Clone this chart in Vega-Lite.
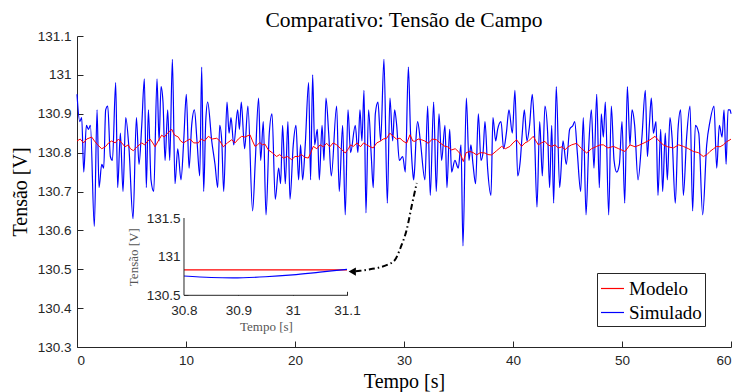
{
 "$schema": "https://vega.github.io/schema/vega-lite/v6.json",
 "width": 654, "height": 311,
 "autosize": {"type": "none"},
 "padding": {"left": 77, "top": 36, "right": 8, "bottom": 45},
 "background": "white",
 "config": {"view": {"stroke": null}, "axis": {"grid": false}},
 "title": {"text": "Comparativo: Tensão de Campo", "font": "Liberation Serif", "fontSize": 21.5, "fontWeight": "normal", "color": "#000000", "anchor": "middle", "baseline": "bottom", "offset": 2, "dy": 26},
 "datasets": {
  "sim": [
   {"t":0,"v":130.95,"s":"Simulado"},{"t":0.25,"v":130.88,"s":"Simulado"},{"t":0.43,"v":130.89,"s":"Simulado"},{"t":0.62,"v":130.75,"s":"Simulado"},{"t":0.86,"v":130.87,"s":"Simulado"},{"t":1.05,"v":130.86,"s":"Simulado"},{"t":1.23,"v":130.87,"s":"Simulado"},{"t":1.59,"v":130.61,"s":"Simulado"},{"t":1.84,"v":130.91,"s":"Simulado"},{"t":2.02,"v":130.71,"s":"Simulado"},{"t":2.27,"v":130.77,"s":"Simulado"},{"t":2.45,"v":130.76,"s":"Simulado"},{"t":2.63,"v":130.91,"s":"Simulado"},{"t":2.82,"v":130.92,"s":"Simulado"},{"t":3.06,"v":130.79,"s":"Simulado"},{"t":3.25,"v":130.78,"s":"Simulado"},{"t":3.55,"v":130.98,"s":"Simulado"},{"t":3.73,"v":130.71,"s":"Simulado"},{"t":3.98,"v":130.85,"s":"Simulado"},{"t":4.22,"v":130.70,"s":"Simulado"},{"t":4.47,"v":130.89,"s":"Simulado"},{"t":4.77,"v":130.81,"s":"Simulado"},{"t":5.14,"v":130.63,"s":"Simulado"},{"t":5.45,"v":130.89,"s":"Simulado"},{"t":5.69,"v":130.77,"s":"Simulado"},{"t":5.94,"v":130.87,"s":"Simulado"},{"t":6.18,"v":130.99,"s":"Simulado"},{"t":6.36,"v":130.71,"s":"Simulado"},{"t":6.55,"v":130.91,"s":"Simulado"},{"t":6.79,"v":130.73,"s":"Simulado"},{"t":7.04,"v":130.70,"s":"Simulado"},{"t":7.34,"v":130.99,"s":"Simulado"},{"t":7.53,"v":130.83,"s":"Simulado"},{"t":7.71,"v":130.97,"s":"Simulado"},{"t":7.89,"v":130.93,"s":"Simulado"},{"t":8.08,"v":130.78,"s":"Simulado"},{"t":8.32,"v":130.91,"s":"Simulado"},{"t":8.51,"v":130.78,"s":"Simulado"},{"t":8.75,"v":131.04,"s":"Simulado"},{"t":8.99,"v":130.72,"s":"Simulado"},{"t":9.24,"v":130.81,"s":"Simulado"},{"t":9.54,"v":130.73,"s":"Simulado"},{"t":9.79,"v":130.83,"s":"Simulado"},{"t":10.03,"v":130.95,"s":"Simulado"},{"t":10.28,"v":130.76,"s":"Simulado"},{"t":10.52,"v":130.87,"s":"Simulado"},{"t":10.77,"v":130.91,"s":"Simulado"},{"t":11.01,"v":130.83,"s":"Simulado"},{"t":11.26,"v":130.74,"s":"Simulado"},{"t":11.44,"v":131.02,"s":"Simulado"},{"t":11.62,"v":130.70,"s":"Simulado"},{"t":11.81,"v":130.88,"s":"Simulado"},{"t":11.99,"v":130.93,"s":"Simulado"},{"t":12.36,"v":130.83,"s":"Simulado"},{"t":12.66,"v":130.77,"s":"Simulado"},{"t":12.91,"v":130.71,"s":"Simulado"},{"t":13.09,"v":130.87,"s":"Simulado"},{"t":13.28,"v":130.83,"s":"Simulado"},{"t":13.46,"v":130.70,"s":"Simulado"},{"t":13.76,"v":130.93,"s":"Simulado"},{"t":13.95,"v":130.85,"s":"Simulado"},{"t":14.13,"v":130.89,"s":"Simulado"},{"t":14.38,"v":130.82,"s":"Simulado"},{"t":14.74,"v":130.91,"s":"Simulado"},{"t":14.9,"v":130.86,"s":"Simulado"},{"t":15.07,"v":130.93,"s":"Simulado"},{"t":15.38,"v":130.81,"s":"Simulado"},{"t":15.68,"v":130.92,"s":"Simulado"},{"t":16.11,"v":130.65,"s":"Simulado"},{"t":16.36,"v":130.78,"s":"Simulado"},{"t":16.66,"v":130.94,"s":"Simulado"},{"t":16.85,"v":130.78,"s":"Simulado"},{"t":17.09,"v":130.88,"s":"Simulado"},{"t":17.34,"v":130.64,"s":"Simulado"},{"t":17.64,"v":130.85,"s":"Simulado"},{"t":17.89,"v":130.90,"s":"Simulado"},{"t":18.19,"v":130.68,"s":"Simulado"},{"t":18.5,"v":130.76,"s":"Simulado"},{"t":18.68,"v":130.72,"s":"Simulado"},{"t":18.86,"v":130.87,"s":"Simulado"},{"t":19.11,"v":130.72,"s":"Simulado"},{"t":19.35,"v":130.88,"s":"Simulado"},{"t":19.54,"v":130.68,"s":"Simulado"},{"t":19.84,"v":130.82,"s":"Simulado"},{"t":20.09,"v":130.87,"s":"Simulado"},{"t":20.33,"v":130.73,"s":"Simulado"},{"t":20.51,"v":130.82,"s":"Simulado"},{"t":20.7,"v":130.73,"s":"Simulado"},{"t":20.94,"v":130.82,"s":"Simulado"},{"t":21.25,"v":130.98,"s":"Simulado"},{"t":21.43,"v":130.73,"s":"Simulado"},{"t":21.62,"v":131.0,"s":"Simulado"},{"t":21.8,"v":130.82,"s":"Simulado"},{"t":22.05,"v":130.86,"s":"Simulado"},{"t":22.23,"v":130.73,"s":"Simulado"},{"t":22.48,"v":130.87,"s":"Simulado"},{"t":22.66,"v":130.78,"s":"Simulado"},{"t":22.84,"v":130.94,"s":"Simulado"},{"t":23.09,"v":130.85,"s":"Simulado"},{"t":23.33,"v":130.74,"s":"Simulado"},{"t":23.82,"v":130.92,"s":"Simulado"},{"t":24.06,"v":130.70,"s":"Simulado"},{"t":24.37,"v":130.87,"s":"Simulado"},{"t":24.61,"v":130.64,"s":"Simulado"},{"t":24.86,"v":130.91,"s":"Simulado"},{"t":25.1,"v":130.80,"s":"Simulado"},{"t":25.53,"v":130.87,"s":"Simulado"},{"t":25.77,"v":130.80,"s":"Simulado"},{"t":25.96,"v":130.91,"s":"Simulado"},{"t":26.14,"v":130.83,"s":"Simulado"},{"t":26.33,"v":130.96,"s":"Simulado"},{"t":26.51,"v":130.645,"s":"Simulado"},{"t":26.75,"v":130.91,"s":"Simulado"},{"t":27.0,"v":130.79,"s":"Simulado"},{"t":27.18,"v":130.71,"s":"Simulado"},{"t":27.37,"v":130.90,"s":"Simulado"},{"t":27.61,"v":130.93,"s":"Simulado"},{"t":27.86,"v":130.83,"s":"Simulado"},{"t":28.16,"v":131.04,"s":"Simulado"},{"t":28.47,"v":130.67,"s":"Simulado"},{"t":28.71,"v":130.94,"s":"Simulado"},{"t":28.96,"v":130.83,"s":"Simulado"},{"t":29.14,"v":130.91,"s":"Simulado"},{"t":29.33,"v":130.87,"s":"Simulado"},{"t":29.57,"v":130.78,"s":"Simulado"},{"t":29.88,"v":130.79,"s":"Simulado"},{"t":30.12,"v":130.75,"s":"Simulado"},{"t":30.4,"v":131.02,"s":"Simulado"},{"t":30.6,"v":130.85,"s":"Simulado"},{"t":30.8,"v":130.75,"s":"Simulado"},{"t":30.89,"v":130.73,"s":"Simulado"},{"t":31.0,"v":130.77,"s":"Simulado"},{"t":31.1,"v":130.835,"s":"Simulado"},{"t":31.25,"v":130.88,"s":"Simulado"},{"t":31.5,"v":130.83,"s":"Simulado"},{"t":31.92,"v":130.73,"s":"Simulado"},{"t":32.17,"v":130.92,"s":"Simulado"},{"t":32.41,"v":130.69,"s":"Simulado"},{"t":32.72,"v":130.93,"s":"Simulado"},{"t":32.96,"v":130.70,"s":"Simulado"},{"t":33.21,"v":130.90,"s":"Simulado"},{"t":33.45,"v":130.78,"s":"Simulado"},{"t":33.76,"v":130.87,"s":"Simulado"},{"t":33.94,"v":130.71,"s":"Simulado"},{"t":34.19,"v":130.86,"s":"Simulado"},{"t":34.37,"v":130.75,"s":"Simulado"},{"t":34.67,"v":130.78,"s":"Simulado"},{"t":34.98,"v":130.76,"s":"Simulado"},{"t":35.23,"v":130.82,"s":"Simulado"},{"t":35.41,"v":130.56,"s":"Simulado"},{"t":35.72,"v":130.94,"s":"Simulado"},{"t":35.96,"v":130.78,"s":"Simulado"},{"t":36.14,"v":130.82,"s":"Simulado"},{"t":36.33,"v":130.77,"s":"Simulado"},{"t":36.57,"v":130.72,"s":"Simulado"},{"t":36.82,"v":130.90,"s":"Simulado"},{"t":37.06,"v":130.78,"s":"Simulado"},{"t":37.25,"v":130.80,"s":"Simulado"},{"t":37.43,"v":130.88,"s":"Simulado"},{"t":37.67,"v":130.76,"s":"Simulado"},{"t":37.98,"v":130.69,"s":"Simulado"},{"t":38.16,"v":130.89,"s":"Simulado"},{"t":38.41,"v":130.83,"s":"Simulado"},{"t":38.59,"v":130.86,"s":"Simulado"},{"t":38.9,"v":130.88,"s":"Simulado"},{"t":39.14,"v":130.81,"s":"Simulado"},{"t":39.39,"v":130.85,"s":"Simulado"},{"t":39.63,"v":130.91,"s":"Simulado"},{"t":39.94,"v":130.85,"s":"Simulado"},{"t":40.18,"v":130.96,"s":"Simulado"},{"t":40.43,"v":130.74,"s":"Simulado"},{"t":40.67,"v":130.78,"s":"Simulado"},{"t":40.85,"v":130.85,"s":"Simulado"},{"t":41.04,"v":130.91,"s":"Simulado"},{"t":41.28,"v":130.83,"s":"Simulado"},{"t":41.52,"v":130.87,"s":"Simulado"},{"t":41.77,"v":130.95,"s":"Simulado"},{"t":41.95,"v":130.87,"s":"Simulado"},{"t":42.2,"v":130.66,"s":"Simulado"},{"t":42.45,"v":130.88,"s":"Simulado"},{"t":42.69,"v":130.74,"s":"Simulado"},{"t":42.93,"v":130.92,"s":"Simulado"},{"t":43.18,"v":130.85,"s":"Simulado"},{"t":43.36,"v":130.71,"s":"Simulado"},{"t":43.55,"v":130.87,"s":"Simulado"},{"t":43.73,"v":130.67,"s":"Simulado"},{"t":43.97,"v":130.97,"s":"Simulado"},{"t":44.28,"v":130.71,"s":"Simulado"},{"t":44.59,"v":130.83,"s":"Simulado"},{"t":44.89,"v":130.77,"s":"Simulado"},{"t":45.2,"v":130.86,"s":"Simulado"},{"t":45.5,"v":130.87,"s":"Simulado"},{"t":45.66,"v":130.88,"s":"Simulado"},{"t":45.9,"v":130.80,"s":"Simulado"},{"t":46.21,"v":130.70,"s":"Simulado"},{"t":46.45,"v":130.89,"s":"Simulado"},{"t":46.7,"v":130.64,"s":"Simulado"},{"t":46.94,"v":130.81,"s":"Simulado"},{"t":47.19,"v":130.91,"s":"Simulado"},{"t":47.43,"v":130.76,"s":"Simulado"},{"t":47.68,"v":130.95,"s":"Simulado"},{"t":47.92,"v":130.71,"s":"Simulado"},{"t":48.1,"v":130.90,"s":"Simulado"},{"t":48.29,"v":130.84,"s":"Simulado"},{"t":48.47,"v":130.93,"s":"Simulado"},{"t":48.78,"v":130.64,"s":"Simulado"},{"t":49.02,"v":130.92,"s":"Simulado"},{"t":49.27,"v":130.78,"s":"Simulado"},{"t":49.51,"v":130.75,"s":"Simulado"},{"t":49.76,"v":130.77,"s":"Simulado"},{"t":50.0,"v":130.88,"s":"Simulado"},{"t":50.25,"v":130.67,"s":"Simulado"},{"t":50.49,"v":130.97,"s":"Simulado"},{"t":50.73,"v":130.82,"s":"Simulado"},{"t":50.92,"v":130.91,"s":"Simulado"},{"t":51.16,"v":130.87,"s":"Simulado"},{"t":51.47,"v":130.73,"s":"Simulado"},{"t":51.83,"v":130.84,"s":"Simulado"},{"t":52.14,"v":130.96,"s":"Simulado"},{"t":52.33,"v":130.79,"s":"Simulado"},{"t":52.51,"v":130.87,"s":"Simulado"},{"t":52.69,"v":130.94,"s":"Simulado"},{"t":52.88,"v":130.85,"s":"Simulado"},{"t":53.12,"v":130.88,"s":"Simulado"},{"t":53.3,"v":130.69,"s":"Simulado"},{"t":53.55,"v":130.86,"s":"Simulado"},{"t":53.73,"v":130.70,"s":"Simulado"},{"t":53.97,"v":130.85,"s":"Simulado"},{"t":54.16,"v":130.73,"s":"Simulado"},{"t":54.4,"v":130.89,"s":"Simulado"},{"t":54.59,"v":130.84,"s":"Simulado"},{"t":54.89,"v":130.67,"s":"Simulado"},{"t":55.14,"v":130.86,"s":"Simulado"},{"t":55.38,"v":130.91,"s":"Simulado"},{"t":55.63,"v":130.69,"s":"Simulado"},{"t":55.93,"v":130.84,"s":"Simulado"},{"t":56.24,"v":130.92,"s":"Simulado"},{"t":56.48,"v":130.65,"s":"Simulado"},{"t":56.73,"v":130.87,"s":"Simulado"},{"t":57.04,"v":130.85,"s":"Simulado"},{"t":57.4,"v":130.64,"s":"Simulado"},{"t":57.77,"v":130.82,"s":"Simulado"},{"t":58.07,"v":130.88,"s":"Simulado"},{"t":58.44,"v":130.92,"s":"Simulado"},{"t":58.69,"v":130.76,"s":"Simulado"},{"t":58.93,"v":130.87,"s":"Simulado"},{"t":59.18,"v":130.84,"s":"Simulado"},{"t":59.36,"v":130.91,"s":"Simulado"},{"t":59.55,"v":130.77,"s":"Simulado"},{"t":59.73,"v":130.91,"s":"Simulado"},{"t":59.91,"v":130.91,"s":"Simulado"},{"t":60,"v":130.90,"s":"Simulado"}
  ],
  "mod": [
   {"t":0,"v":130.83,"s":"Modelo"},{"t":0.3,"v":130.835,"s":"Modelo"},{"t":0.6,"v":130.825,"s":"Modelo"},{"t":0.9,"v":130.835,"s":"Modelo"},{"t":1.35,"v":130.84,"s":"Modelo"},{"t":1.6,"v":130.83,"s":"Modelo"},{"t":1.9,"v":130.82,"s":"Modelo"},{"t":2.27,"v":130.81,"s":"Modelo"},{"t":2.6,"v":130.815,"s":"Modelo"},{"t":2.9,"v":130.825,"s":"Modelo"},{"t":3.18,"v":130.83,"s":"Modelo"},{"t":3.5,"v":130.825,"s":"Modelo"},{"t":3.8,"v":130.835,"s":"Modelo"},{"t":4.1,"v":130.825,"s":"Modelo"},{"t":4.41,"v":130.815,"s":"Modelo"},{"t":4.7,"v":130.82,"s":"Modelo"},{"t":4.9,"v":130.81,"s":"Modelo"},{"t":5.17,"v":130.805,"s":"Modelo"},{"t":5.5,"v":130.815,"s":"Modelo"},{"t":5.94,"v":130.825,"s":"Modelo"},{"t":6.2,"v":130.82,"s":"Modelo"},{"t":6.5,"v":130.83,"s":"Modelo"},{"t":6.7,"v":130.835,"s":"Modelo"},{"t":6.95,"v":130.825,"s":"Modelo"},{"t":7.16,"v":130.815,"s":"Modelo"},{"t":7.45,"v":130.83,"s":"Modelo"},{"t":7.77,"v":130.845,"s":"Modelo"},{"t":8.0,"v":130.84,"s":"Modelo"},{"t":8.3,"v":130.85,"s":"Modelo"},{"t":8.69,"v":130.86,"s":"Modelo"},{"t":8.95,"v":130.845,"s":"Modelo"},{"t":9.3,"v":130.84,"s":"Modelo"},{"t":9.5,"v":130.83,"s":"Modelo"},{"t":9.76,"v":130.825,"s":"Modelo"},{"t":10.05,"v":130.83,"s":"Modelo"},{"t":10.37,"v":130.835,"s":"Modelo"},{"t":10.7,"v":130.825,"s":"Modelo"},{"t":11.13,"v":130.825,"s":"Modelo"},{"t":11.4,"v":130.835,"s":"Modelo"},{"t":11.7,"v":130.83,"s":"Modelo"},{"t":12.05,"v":130.842,"s":"Modelo"},{"t":12.4,"v":130.835,"s":"Modelo"},{"t":12.82,"v":130.837,"s":"Modelo"},{"t":13.1,"v":130.83,"s":"Modelo"},{"t":13.43,"v":130.815,"s":"Modelo"},{"t":13.8,"v":130.825,"s":"Modelo"},{"t":14.19,"v":130.833,"s":"Modelo"},{"t":14.5,"v":130.825,"s":"Modelo"},{"t":14.8,"v":130.835,"s":"Modelo"},{"t":15.11,"v":130.842,"s":"Modelo"},{"t":15.4,"v":130.84,"s":"Modelo"},{"t":15.87,"v":130.846,"s":"Modelo"},{"t":16.1,"v":130.83,"s":"Modelo"},{"t":16.33,"v":130.816,"s":"Modelo"},{"t":16.55,"v":130.82,"s":"Modelo"},{"t":16.78,"v":130.826,"s":"Modelo"},{"t":17.0,"v":130.82,"s":"Modelo"},{"t":17.24,"v":130.822,"s":"Modelo"},{"t":17.55,"v":130.807,"s":"Modelo"},{"t":17.9,"v":130.80,"s":"Modelo"},{"t":18.31,"v":130.79,"s":"Modelo"},{"t":18.6,"v":130.795,"s":"Modelo"},{"t":18.93,"v":130.786,"s":"Modelo"},{"t":19.3,"v":130.79,"s":"Modelo"},{"t":19.69,"v":130.782,"s":"Modelo"},{"t":20.0,"v":130.79,"s":"Modelo"},{"t":20.3,"v":130.79,"s":"Modelo"},{"t":20.6,"v":130.795,"s":"Modelo"},{"t":20.9,"v":130.788,"s":"Modelo"},{"t":21.22,"v":130.786,"s":"Modelo"},{"t":21.45,"v":130.80,"s":"Modelo"},{"t":21.68,"v":130.816,"s":"Modelo"},{"t":22.0,"v":130.81,"s":"Modelo"},{"t":22.3,"v":130.82,"s":"Modelo"},{"t":22.6,"v":130.815,"s":"Modelo"},{"t":22.9,"v":130.824,"s":"Modelo"},{"t":23.2,"v":130.815,"s":"Modelo"},{"t":23.5,"v":130.825,"s":"Modelo"},{"t":23.82,"v":130.82,"s":"Modelo"},{"t":24.2,"v":130.81,"s":"Modelo"},{"t":24.61,"v":130.799,"s":"Modelo"},{"t":24.9,"v":130.81,"s":"Modelo"},{"t":25.1,"v":130.82,"s":"Modelo"},{"t":25.35,"v":130.816,"s":"Modelo"},{"t":25.7,"v":130.825,"s":"Modelo"},{"t":26.0,"v":130.815,"s":"Modelo"},{"t":26.3,"v":130.825,"s":"Modelo"},{"t":26.57,"v":130.82,"s":"Modelo"},{"t":26.9,"v":130.815,"s":"Modelo"},{"t":27.18,"v":130.812,"s":"Modelo"},{"t":27.5,"v":130.825,"s":"Modelo"},{"t":27.79,"v":130.829,"s":"Modelo"},{"t":28.1,"v":130.835,"s":"Modelo"},{"t":28.41,"v":130.837,"s":"Modelo"},{"t":28.7,"v":130.85,"s":"Modelo"},{"t":29.02,"v":130.842,"s":"Modelo"},{"t":29.3,"v":130.835,"s":"Modelo"},{"t":29.63,"v":130.837,"s":"Modelo"},{"t":29.9,"v":130.83,"s":"Modelo"},{"t":30.24,"v":130.824,"s":"Modelo"},{"t":30.55,"v":130.846,"s":"Modelo"},{"t":30.8,"v":130.83,"s":"Modelo"},{"t":31.01,"v":130.829,"s":"Modelo"},{"t":31.3,"v":130.835,"s":"Modelo"},{"t":31.62,"v":130.833,"s":"Modelo"},{"t":31.9,"v":130.83,"s":"Modelo"},{"t":32.23,"v":130.824,"s":"Modelo"},{"t":32.6,"v":130.835,"s":"Modelo"},{"t":32.99,"v":130.833,"s":"Modelo"},{"t":33.3,"v":130.825,"s":"Modelo"},{"t":33.76,"v":130.816,"s":"Modelo"},{"t":34.0,"v":130.815,"s":"Modelo"},{"t":34.37,"v":130.807,"s":"Modelo"},{"t":34.7,"v":130.81,"s":"Modelo"},{"t":34.98,"v":130.803,"s":"Modelo"},{"t":35.2,"v":130.795,"s":"Modelo"},{"t":35.44,"v":130.777,"s":"Modelo"},{"t":35.7,"v":130.80,"s":"Modelo"},{"t":36.05,"v":130.803,"s":"Modelo"},{"t":36.35,"v":130.80,"s":"Modelo"},{"t":36.66,"v":130.794,"s":"Modelo"},{"t":37.0,"v":130.80,"s":"Modelo"},{"t":37.43,"v":130.799,"s":"Modelo"},{"t":37.7,"v":130.795,"s":"Modelo"},{"t":38.04,"v":130.794,"s":"Modelo"},{"t":38.5,"v":130.805,"s":"Modelo"},{"t":38.96,"v":130.816,"s":"Modelo"},{"t":39.3,"v":130.81,"s":"Modelo"},{"t":39.72,"v":130.816,"s":"Modelo"},{"t":40.0,"v":130.825,"s":"Modelo"},{"t":40.33,"v":130.833,"s":"Modelo"},{"t":40.55,"v":130.825,"s":"Modelo"},{"t":40.79,"v":130.816,"s":"Modelo"},{"t":41.1,"v":130.825,"s":"Modelo"},{"t":41.4,"v":130.829,"s":"Modelo"},{"t":41.86,"v":130.842,"s":"Modelo"},{"t":42.1,"v":130.83,"s":"Modelo"},{"t":42.32,"v":130.82,"s":"Modelo"},{"t":42.6,"v":130.825,"s":"Modelo"},{"t":42.93,"v":130.829,"s":"Modelo"},{"t":43.2,"v":130.82,"s":"Modelo"},{"t":43.55,"v":130.816,"s":"Modelo"},{"t":43.85,"v":130.82,"s":"Modelo"},{"t":44.16,"v":130.812,"s":"Modelo"},{"t":44.5,"v":130.815,"s":"Modelo"},{"t":44.77,"v":130.807,"s":"Modelo"},{"t":45.05,"v":130.815,"s":"Modelo"},{"t":45.38,"v":130.82,"s":"Modelo"},{"t":45.84,"v":130.824,"s":"Modelo"},{"t":46.3,"v":130.81,"s":"Modelo"},{"t":46.76,"v":130.799,"s":"Modelo"},{"t":47.2,"v":130.81,"s":"Modelo"},{"t":47.68,"v":130.816,"s":"Modelo"},{"t":48.0,"v":130.82,"s":"Modelo"},{"t":48.29,"v":130.82,"s":"Modelo"},{"t":48.7,"v":130.812,"s":"Modelo"},{"t":49.21,"v":130.816,"s":"Modelo"},{"t":49.7,"v":130.81,"s":"Modelo"},{"t":50.28,"v":130.803,"s":"Modelo"},{"t":50.73,"v":130.82,"s":"Modelo"},{"t":51.2,"v":130.815,"s":"Modelo"},{"t":51.65,"v":130.82,"s":"Modelo"},{"t":52.1,"v":130.826,"s":"Modelo"},{"t":52.57,"v":130.833,"s":"Modelo"},{"t":53.03,"v":130.842,"s":"Modelo"},{"t":53.4,"v":130.83,"s":"Modelo"},{"t":53.79,"v":130.82,"s":"Modelo"},{"t":54.2,"v":130.815,"s":"Modelo"},{"t":54.71,"v":130.812,"s":"Modelo"},{"t":55.2,"v":130.82,"s":"Modelo"},{"t":55.63,"v":130.816,"s":"Modelo"},{"t":56.1,"v":130.81,"s":"Modelo"},{"t":56.55,"v":130.803,"s":"Modelo"},{"t":57.0,"v":130.80,"s":"Modelo"},{"t":57.46,"v":130.79,"s":"Modelo"},{"t":57.8,"v":130.795,"s":"Modelo"},{"t":58.07,"v":130.803,"s":"Modelo"},{"t":58.4,"v":130.81,"s":"Modelo"},{"t":58.69,"v":130.816,"s":"Modelo"},{"t":59.0,"v":130.815,"s":"Modelo"},{"t":59.3,"v":130.82,"s":"Modelo"},{"t":59.6,"v":130.828,"s":"Modelo"},{"t":59.91,"v":130.833,"s":"Modelo"},{"t":60,"v":130.835,"s":"Modelo"}
  ],
  "arrow": [
   {"t":31.17,"v":130.722},{"t":30.73,"v":130.666},{"t":30.25,"v":130.602},{"t":29.72,"v":130.558},{"t":29.17,"v":130.524},{"t":28.53,"v":130.512},{"t":27.8,"v":130.505},{"t":26.88,"v":130.5},{"t":25.96,"v":130.496},{"t":25.55,"v":130.495}
  ],
  "head": [{"t":25.25,"v":130.494}],
  "insetSim": [
   {"t":30.8,"v":130.75},{"t":30.85,"v":130.73},{"t":30.89,"v":130.725},{"t":30.95,"v":130.74},{"t":31.0,"v":130.765},{"t":31.05,"v":130.80},{"t":31.1,"v":130.835}
  ],
  "insetMod": [
   {"t":30.8,"v":130.83},{"t":30.9,"v":130.83},{"t":31.0,"v":130.83},{"t":31.1,"v":130.83}
  ],
  "insetBox": [{"t":30.8,"t2":31.1,"v":130.5,"v2":131.5}],
  "insetAxes": [
   {"t":30.8,"t2":31.1,"v":130.5,"v2":130.5},
   {"t":30.8,"t2":30.8,"v":130.5,"v2":131.5}
  ]
 },
 "layer": [
  {
   "encoding": {
    "x": {"field": "t", "type": "quantitative",
     "scale": {"domain": [0, 60], "nice": false, "zero": false},
     "axis": {"orient": "bottom", "values": [0, 10, 20, 30, 40, 50, 60], "format": "d", "tickSize": -6, "labelPadding": 12,
      "domainColor": "#262626", "tickColor": "#262626", "labelColor": "#262626", "labelFont": "Liberation Sans", "labelFontSize": 13.5,
      "title": "Tempo [s]", "titleFont": "Liberation Serif", "titleFontSize": 20, "titleFontWeight": "normal", "titleColor": "#000000",
      "titleX": 327, "titleY": 40, "titleBaseline": "alphabetic", "titleAlign": "center"}},
    "y": {"field": "v", "type": "quantitative",
     "scale": {"domain": [130.3, 131.1], "nice": false, "zero": false},
     "axis": {"orient": "left", "values": [130.3, 130.4, 130.5, 130.6, 130.7, 130.8, 130.9, 131, 131.1], "format": ".4~r", "tickSize": -6, "labelPadding": 12,
      "domainColor": "#262626", "tickColor": "#262626", "labelColor": "#262626", "labelFont": "Liberation Sans", "labelFontSize": 13.5,
      "title": "Tensão [V]", "titleFont": "Liberation Serif", "titleFontSize": 20, "titleFontWeight": "normal", "titleColor": "#000000",
      "titleX": -57, "titleY": 155.5, "titleAngle": -90, "titleBaseline": "middle", "titleAlign": "center"}}
   },
   "layer": [
    {"data": {"name": "sim"}, "mark": {"type": "line", "strokeWidth": 1.2, "interpolate": "monotone"},
     "encoding": {"color": {"field": "s", "type": "nominal",
      "scale": {"domain": ["Modelo", "Simulado"], "range": ["#ff0000", "#0000ff"]},
      "legend": {"orient": "none", "legendX": 520, "legendY": 237, "title": null, "symbolType": "stroke", "symbolSize": 529, "symbolStrokeWidth": 1.2,
       "strokeColor": "#262626", "fillColor": "white", "padding": 3, "labelFont": "Liberation Serif", "labelFontSize": 19, "labelColor": "#000000", "rowPadding": 1, "labelOffset": 4}}}},
    {"data": {"name": "mod"}, "mark": {"type": "line", "strokeWidth": 1},
     "encoding": {"color": {"field": "s", "type": "nominal"}}},
    {"data": {"name": "arrow"}, "mark": {"type": "line", "color": "#000000", "strokeWidth": 2, "strokeDash": [6, 3, 1.5, 3], "interpolate": "monotone"}, "encoding": {}},
    {"data": {"name": "head"}, "mark": {"type": "point", "shape": "triangle-left", "filled": true, "color": "#000000", "size": 70, "opacity": 1}, "encoding": {}}
   ]
  },
  {
   "encoding": {
    "x": {"field": "t", "type": "quantitative",
     "scale": {"domain": [30.60307, 31.80675], "nice": false, "zero": false},
     "axis": {"orient": "bottom", "offset": -51.7, "domain": false, "values": [30.8, 30.9, 31, 31.1], "format": ".3~r", "tickSize": -4, "labelPadding": 12,
      "tickColor": "#262626", "labelColor": "#262626", "labelFont": "Liberation Sans", "labelFontSize": 13.5,
      "title": "Tempo [s]", "titleFont": "Liberation Serif", "titleFontSize": 13, "titleFontWeight": "normal", "titleColor": "#555555",
      "titleX": 189, "titleY": 31.5, "titleBaseline": "middle", "titleAlign": "center"}},
    "y": {"field": "v", "type": "quantitative",
     "scale": {"domain": [129.8312, 133.8545], "nice": false, "zero": false},
     "axis": {"orient": "left", "offset": -107, "domain": false, "values": [130.5, 131, 131.5], "format": ".4~r", "tickSize": -4, "labelPadding": 8,
      "tickColor": "#262626", "labelColor": "#262626", "labelFont": "Liberation Sans", "labelFontSize": 13.5,
      "title": "Tensão [V]", "titleFont": "Liberation Serif", "titleFontSize": 13, "titleFontWeight": "normal", "titleColor": "#555555",
      "titleX": -51, "titleY": 220.7, "titleAngle": -90, "titleBaseline": "middle", "titleAlign": "center"}}
   },
   "layer": [
    {"data": {"name": "insetBox"}, "mark": {"type": "rect", "fill": "white"},
     "encoding": {"x2": {"field": "t2"}, "y2": {"field": "v2"}}},
    {"data": {"name": "insetMod"}, "mark": {"type": "line", "color": "#ff0000", "strokeWidth": 1.2}, "encoding": {}},
    {"data": {"name": "insetSim"}, "mark": {"type": "line", "color": "#0000ff", "strokeWidth": 1.2, "interpolate": "monotone"}, "encoding": {}},
    {"data": {"name": "insetAxes"}, "mark": {"type": "rule", "color": "#262626", "strokeWidth": 1},
     "encoding": {"x2": {"field": "t2"}, "y2": {"field": "v2"}}}
   ]
  }
 ],
 "resolve": {"scale": {"x": "independent", "y": "independent"}}
}
